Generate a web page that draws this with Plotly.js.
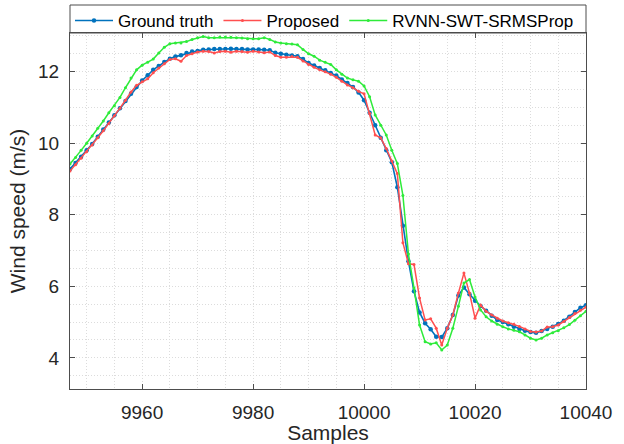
<!DOCTYPE html>
<html>
<head>
<meta charset="utf-8">
<script src="https://cdn.plot.ly/plotly-3.0.1.min.js"></script>
<style>
html,body{margin:0;padding:0;background:#fff;}
#chart{width:624px;height:444px;}
</style>
</head>
<body>
<div id="chart"></div>
<script>
const samples = [9947,9948,9949,9950,9951,9952,9953,9954,9955,9956,9957,9958,9959,9960,9961,9962,9963,9964,9965,9966,9967,9968,9969,9970,9971,9972,9973,9974,9975,9976,9977,9978,9979,9980,9981,9982,9983,9984,9985,9986,9987,9988,9989,9990,9991,9992,9993,9994,9995,9996,9997,9998,9999,10000,10001,10002,10003,10004,10005,10006,10007,10008,10009,10010,10011,10012,10013,10014,10015,10016,10017,10018,10019,10020,10021,10022,10023,10024,10025,10026,10027,10028,10029,10030,10031,10032,10033,10034,10035,10036,10037,10038,10039,10040];

const groundTruth = [9.28,9.45,9.62,9.80,9.98,10.18,10.38,10.58,10.78,10.98,11.18,11.38,11.57,11.75,11.90,12.05,12.16,12.27,12.36,12.42,12.46,12.52,12.56,12.58,12.61,12.62,12.63,12.63,12.63,12.64,12.63,12.63,12.62,12.62,12.62,12.61,12.60,12.53,12.50,12.47,12.45,12.43,12.35,12.24,12.17,12.10,12.04,11.96,11.89,11.78,11.68,11.57,11.42,11.20,10.85,10.50,10.15,9.80,9.47,8.77,7.69,6.70,5.86,5.27,4.97,4.80,4.59,4.58,4.83,5.20,5.74,5.97,5.78,5.60,5.45,5.32,5.18,5.06,5.00,4.94,4.87,4.81,4.76,4.72,4.70,4.75,4.81,4.87,4.95,5.04,5.15,5.28,5.40,5.47];

const proposed = [9.22,9.40,9.58,9.76,9.95,10.15,10.35,10.55,10.77,10.98,11.20,11.43,11.62,11.72,11.80,11.97,12.10,12.22,12.34,12.36,12.29,12.45,12.50,12.55,12.57,12.56,12.52,12.56,12.57,12.54,12.57,12.56,12.54,12.57,12.55,12.53,12.55,12.45,12.40,12.40,12.42,12.40,12.30,12.20,12.12,12.05,12.00,11.93,11.84,11.73,11.63,11.55,11.45,11.38,10.84,10.23,10.15,9.85,9.50,9.15,7.22,6.63,6.61,5.67,5.06,5.09,4.83,4.36,4.83,5.20,5.81,6.37,5.81,5.11,5.48,5.30,5.20,5.11,5.03,4.98,4.94,4.88,4.81,4.74,4.72,4.75,4.86,4.87,4.92,5.02,5.13,5.24,5.33,5.42];

const rvnn = [9.42,9.60,9.80,10.00,10.20,10.42,10.62,10.85,11.05,11.28,11.55,11.82,12.05,12.18,12.26,12.35,12.52,12.68,12.78,12.80,12.80,12.84,12.90,12.95,12.98,12.95,12.95,12.97,12.97,12.96,12.95,12.94,12.92,12.92,12.92,12.95,12.90,12.83,12.80,12.78,12.77,12.75,12.62,12.50,12.43,12.32,12.26,12.20,12.05,11.93,11.82,11.77,11.73,11.60,11.30,10.79,10.50,10.23,9.80,9.43,8.54,6.90,5.95,4.92,4.45,4.39,4.42,4.22,4.36,4.83,5.44,6.09,6.19,5.70,5.34,5.15,5.03,4.94,4.87,4.81,4.77,4.73,4.64,4.55,4.50,4.55,4.64,4.70,4.76,4.84,4.93,5.05,5.18,5.30];

const seriesNames = ['Ground truth','Proposed','RVNN-SWT-SRMSProp'];
const xTicks = [9960,9980,10000,10020,10040];
const yTicks = [4,6,8,10,12];

const FONT = 'Liberation Sans, Arial, Helvetica, sans-serif';
const axisCol = '#4d4d4d';
const gridCol = '#dcdcdc';

const traces = [
  {x: samples, y: groundTruth, name: seriesNames[0], mode: 'lines+markers',
   line: {color: '#0072BD', width: 1.6}, marker: {color: '#0072BD', size: 4.5, symbol: 'circle'}},
  {x: samples, y: proposed, name: seriesNames[1], mode: 'lines+markers',
   line: {color: '#FF4F4F', width: 1.5}, marker: {color: '#FF4F4F', size: 3}},
  {x: samples, y: rvnn, name: seriesNames[2], mode: 'lines+markers',
   line: {color: '#2EEB3A', width: 1.5}, marker: {color: '#2EEB3A', size: 3}}
];

// paper area: top 3px .. bottom 389px (386px); plot area starts at y=33
const mT = 3, mB = 55;
const paperH = 444 - mT - mB;
const plotTop = 1 - 30 / paperH;
const layout = {
  width: 624, height: 444,
  margin: {l: 70, r: 38, t: mT, b: mB},
  paper_bgcolor: '#ffffff', plot_bgcolor: '#ffffff',
  font: {family: FONT, color: '#262626'},
  showlegend: true,
  legend: {orientation: 'h', xref: 'paper', yref: 'paper',
           x: 0, xanchor: 'left', y: 1, yanchor: 'top',
           itemwidth: 38,
           font: {family: FONT, size: 17, color: '#000'}, bgcolor: 'rgba(0,0,0,0)',
           borderwidth: 0, itemsizing: 'trace', tracegroupgap: 0},
  xaxis: {
    range: [9947, 10040], tickvals: xTicks, ticktext: xTicks.map(String),
    ticks: 'inside', ticklen: 5, tickcolor: axisCol, tickwidth: 1,
    showline: true, linecolor: axisCol, linewidth: 1, mirror: 'ticks',
    showgrid: true, gridcolor: gridCol, griddash: '1px,2px', gridwidth: 1,
    minor: {dtick: 5, tick0: 9960, showgrid: true, gridcolor: gridCol, griddash: '1px,2px', gridwidth: 1},
    zeroline: false, ticklabelstandoff: 6,
    tickfont: {family: FONT, size: 19, color: '#262626'},
    title: {text: 'Samples', font: {family: FONT, size: 21, color: '#262626'}, standoff: 6}
  },
  yaxis: {
    domain: [0, plotTop],
    range: [3.13, 13.08], tickvals: yTicks, ticktext: yTicks.map(String),
    ticks: 'inside', ticklen: 5, tickcolor: axisCol, tickwidth: 1,
    showline: true, linecolor: axisCol, linewidth: 1, mirror: 'ticks',
    showgrid: true, gridcolor: gridCol, griddash: '1px,2px', gridwidth: 1,
    minor: {dtick: 0.5, tick0: 0, showgrid: true, gridcolor: gridCol, griddash: '1px,2px', gridwidth: 1},
    zeroline: false, ticklabelstandoff: 6,
    tickfont: {family: FONT, size: 19, color: '#262626'},
    title: {text: 'Wind speed (m/s)', font: {family: FONT, size: 21, color: '#262626'}, standoff: 6}
  },
  shapes: [
    {type: 'rect', xref: 'paper', yref: 'paper', x0: 0, x1: 1, y0: plotTop, y1: 1 - 2 / paperH,
     line: {color: axisCol, width: 1}, fillcolor: 'rgba(0,0,0,0)', layer: 'above'}
  ]
};

Plotly.newPlot('chart', traces, layout, {staticPlot: true, displayModeBar: false});
</script>
</body>
</html>
